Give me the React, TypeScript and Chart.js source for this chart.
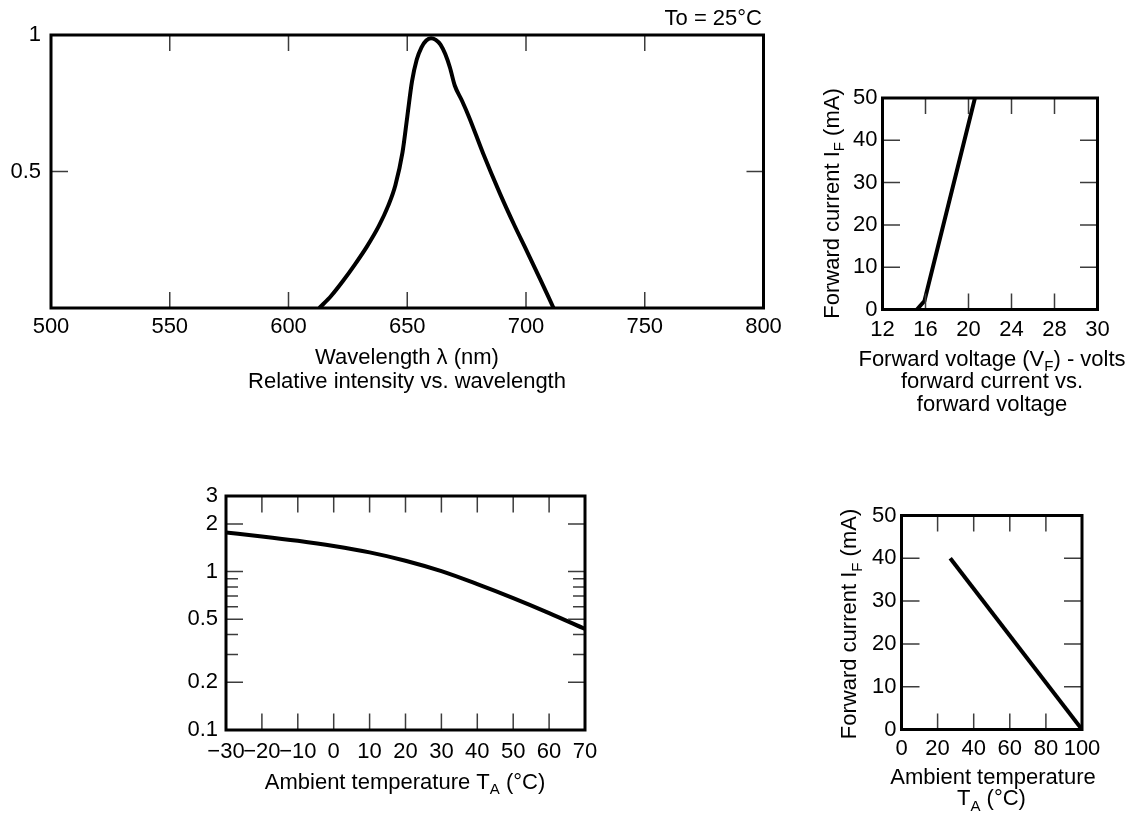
import React, { useEffect, useRef } from 'react';
import { Chart, registerables } from 'chart.js';

Chart.register(...registerables);

const FONT = "'Liberation Sans', Arial, Helvetica, sans-serif";

// ---------- Relative intensity vs. wavelength ----------
const wavelengthNm = [613, 618, 623, 628, 633, 638, 642, 645, 648, 650, 652, 654, 656, 658, 660, 662, 664, 666, 668, 670, 673, 676, 682, 689, 695, 700, 706, 711.6];
const relativeIntensity = [0, 0.045, 0.1, 0.16, 0.225, 0.3, 0.375, 0.45, 0.57, 0.7, 0.83, 0.91, 0.955, 0.98, 0.988, 0.982, 0.965, 0.93, 0.88, 0.815, 0.76, 0.7, 0.565, 0.42, 0.305, 0.215, 0.105, 0];
const wavelengthTicks = [500, 550, 600, 650, 700, 750, 800];
const intensityTicks = [0.5, 1];

// ---------- Forward current vs. forward voltage ----------
const forwardVoltage = [15.2, 15.9, 20.6];
const forwardCurrentByVoltage = [0, 2, 50];
const voltageTicks = [12, 16, 20, 24, 28, 32];
const voltageTickLabels = ['12', '16', '20', '24', '28', '30'];
const currentTicks = [0, 10, 20, 30, 40, 50];

// ---------- Relative luminous intensity vs. ambient temperature ----------
const ambientTemp = [-30, -20, -10, 0, 10, 20, 30, 40, 50, 60, 70];
const relativeLuminous = [1.764, 1.667, 1.564, 1.45, 1.322, 1.171, 1.006, 0.833, 0.68, 0.547, 0.434];
const tempTicks = [-30, -20, -10, 0, 10, 20, 30, 40, 50, 60, 70];
const tempTickLabels = ['\u221230', '\u221220', '\u221210', '0', '10', '20', '30', '40', '50', '60', '70'];
const luminousTicks = [0.1, 0.2, 0.5, 1, 2, 3];
const luminousMinorTicks = [0.3, 0.4, 0.6, 0.7, 0.8, 0.9];

// ---------- Forward current vs. ambient temperature ----------
const deratingTemp = [27, 100];
const deratingCurrent = [40, 0];
const deratingTempTicks = [0, 20, 40, 60, 80, 100];
const deratingCurrentTicks = [0, 10, 20, 30, 40, 50];

type Seg = { t: string; sub?: boolean };
type TextItem = { segs: Seg[]; x: number; y: number; rot?: boolean; align?: 'left' | 'center' | 'right'; size?: number };
type Mark = { v: number; len: number };

type Spec = {
  box: { x: number; y: number; w: number; h: number };
  area: { left: number; top: number; right: number; bottom: number };
  xs: number[];
  ys: number[];
  smooth: boolean;
  xMin: number; xMax: number; xTicks: number[]; xLabels?: string[]; xPad: number;
  yMin: number; yMax: number; yTicks: number[]; yLabels?: string[]; yPad: number; yLog?: boolean;
  xMarks: Mark[];
  yMarks: Mark[];
  texts: TextItem[];
};

const TICK_FONT = { family: FONT, size: 22 };

function drawRich(ctx: CanvasRenderingContext2D, item: TextItem, ox: number, oy: number) {
  const size = item.size ?? 22;
  const main = `${size}px ${FONT}`;
  const sub = `${Math.round(size * 0.7)}px ${FONT}`;
  const widths = item.segs.map((s) => {
    ctx.font = s.sub ? sub : main;
    return ctx.measureText(s.t).width;
  });
  const total = widths.reduce((a, b) => a + b, 0);
  ctx.save();
  ctx.translate(item.x - ox, item.y - oy);
  if (item.rot) ctx.rotate(-Math.PI / 2);
  let cx = item.align === 'right' ? -total : item.align === 'left' ? 0 : -total / 2;
  const base = size * 0.36;
  ctx.fillStyle = '#000';
  ctx.textAlign = 'left';
  ctx.textBaseline = 'alphabetic';
  item.segs.forEach((s, i) => {
    ctx.font = s.sub ? sub : main;
    ctx.fillText(s.t, cx, s.sub ? base + size * 0.24 : base);
    cx += widths[i];
  });
  ctx.restore();
}

function decorPlugin(spec: Spec) {
  return {
    id: 'decor',
    afterDatasetsDraw(chart: any) {
      const { ctx, chartArea: a, scales } = chart;
      const sx = scales.x;
      const sy = scales.y;
      ctx.save();
      ctx.strokeStyle = '#3c3c3c';
      ctx.lineWidth = 1.5;
      ctx.beginPath();
      for (const m of spec.xMarks) {
        const px = sx.getPixelForValue(m.v);
        ctx.moveTo(px, a.bottom);
        ctx.lineTo(px, a.bottom - m.len);
        ctx.moveTo(px, a.top);
        ctx.lineTo(px, a.top + m.len);
      }
      for (const m of spec.yMarks) {
        const py = sy.getPixelForValue(m.v);
        ctx.moveTo(a.left, py);
        ctx.lineTo(a.left + m.len, py);
        ctx.moveTo(a.right, py);
        ctx.lineTo(a.right - m.len, py);
      }
      ctx.stroke();
      ctx.strokeStyle = '#000';
      ctx.lineWidth = 3;
      ctx.strokeRect(a.left, a.top, a.right - a.left, a.bottom - a.top);
      ctx.restore();
      for (const t of spec.texts) drawRich(ctx, t, spec.box.x, spec.box.y);
    },
  };
}

function buildConfig(spec: Spec): any {
  const { box, area } = spec;
  return {
    type: 'line',
    data: {
      datasets: [
        {
          data: spec.xs.map((x, i) => ({ x, y: spec.ys[i] })),
          borderColor: '#000',
          borderWidth: 4,
          pointRadius: 0,
          pointHoverRadius: 0,
          fill: false,
          tension: 0,
          cubicInterpolationMode: spec.smooth ? 'monotone' : 'default',
          borderJoinStyle: 'round',
        },
      ],
    },
    options: {
      responsive: false,
      animation: false,
      devicePixelRatio: 1,
      events: [],
      layout: {
        padding: { left: 0, top: area.top - box.y, right: box.x + box.w - area.right, bottom: 0 },
      },
      plugins: { legend: { display: false }, tooltip: { enabled: false }, title: { display: false } },
      scales: {
        x: {
          type: 'linear',
          min: spec.xMin,
          max: spec.xMax,
          grid: { display: false, drawTicks: false },
          border: { display: false },
          ticks: {
            autoSkip: false,
            maxRotation: 0,
            minRotation: 0,
            padding: spec.xPad,
            color: '#000',
            font: TICK_FONT,
            callback: (v: number, i: number) => (spec.xLabels ? spec.xLabels[i] : String(v)),
          },
          afterBuildTicks: (s: any) => {
            s.ticks = spec.xTicks.map((v) => ({ value: v }));
          },
          afterFit: (s: any) => {
            s.height = box.y + box.h - area.bottom;
          },
        },
        y: {
          type: spec.yLog ? 'logarithmic' : 'linear',
          min: spec.yMin,
          max: spec.yMax,
          grid: { display: false, drawTicks: false },
          border: { display: false },
          ticks: {
            autoSkip: false,
            padding: spec.yPad,
            color: '#000',
            font: TICK_FONT,
            callback: (v: number, i: number) => (spec.yLabels ? spec.yLabels[i] : String(v)),
          },
          afterBuildTicks: (s: any) => {
            s.ticks = spec.yTicks.map((v) => ({ value: v }));
          },
          afterFit: (s: any) => {
            s.width = area.left - box.x;
          },
        },
      },
    },
    plugins: [decorPlugin(spec)],
  };
}

const inner = (vals: number[], len: number, min: number, max: number): Mark[] =>
  vals.filter((v) => v > min && v < max).map((v) => ({ v, len }));

const specs: Spec[] = [
  {
    box: { x: 0, y: 0, w: 800, h: 400 },
    area: { left: 51, top: 35, right: 763.5, bottom: 308 },
    xs: wavelengthNm,
    ys: relativeIntensity,
    smooth: true,
    xMin: 500, xMax: 800, xTicks: wavelengthTicks, xPad: 6,
    yMin: 0, yMax: 1, yTicks: intensityTicks, yPad: 10,
    xMarks: inner(wavelengthTicks, 16, 500, 800),
    yMarks: inner(intensityTicks, 17, 0, 1),
    texts: [
      { segs: [{ t: 'To = 25\u00B0C' }], x: 762, y: 17.5, align: 'right' },
      { segs: [{ t: 'Wavelength \u03BB (nm)' }], x: 407, y: 356.5 },
      { segs: [{ t: 'Relative intensity vs. wavelength' }], x: 407, y: 380 },
    ],
  },
  {
    box: { x: 800, y: 60, w: 331, h: 360 },
    area: { left: 882.5, top: 98, right: 1097.5, bottom: 309.5 },
    xs: forwardVoltage,
    ys: forwardCurrentByVoltage,
    smooth: false,
    xMin: 12, xMax: 32, xTicks: voltageTicks, xLabels: voltageTickLabels, xPad: 7,
    yMin: 0, yMax: 50, yTicks: currentTicks, yPad: 5,
    xMarks: inner(voltageTicks, 16, 12, 32),
    yMarks: inner(currentTicks, 17.5, 0, 50),
    texts: [
      { segs: [{ t: 'Forward current I' }, { t: 'F', sub: true }, { t: ' (mA)' }], x: 831, y: 203.5, rot: true },
      { segs: [{ t: 'Forward voltage (V' }, { t: 'F', sub: true }, { t: ') - volts' }], x: 992, y: 358 },
      { segs: [{ t: 'forward current vs.' }], x: 992, y: 380 },
      { segs: [{ t: 'forward voltage' }], x: 992, y: 403.5 },
    ],
  },
  {
    box: { x: 150, y: 470, w: 470, h: 340 },
    area: { left: 226, top: 496, right: 585, bottom: 730 },
    xs: ambientTemp,
    ys: relativeLuminous,
    smooth: true,
    xMin: -30, xMax: 70, xTicks: tempTicks, xLabels: tempTickLabels, xPad: 9,
    yMin: 0.1, yMax: 3, yTicks: luminousTicks, yPad: 8, yLog: true,
    xMarks: inner(tempTicks, 16.5, -30, 70),
    yMarks: [...inner(luminousTicks, 17, 0.1, 3), ...inner(luminousMinorTicks, 12, 0.1, 3)],
    texts: [
      { segs: [{ t: 'Ambient temperature T' }, { t: 'A', sub: true }, { t: ' (\u00B0C)' }], x: 405, y: 781 },
    ],
  },
  {
    box: { x: 800, y: 490, w: 331, h: 327 },
    area: { left: 901.5, top: 515.5, right: 1082, bottom: 729.5 },
    xs: deratingTemp,
    ys: deratingCurrent,
    smooth: false,
    xMin: 0, xMax: 100, xTicks: deratingTempTicks, xPad: 6,
    yMin: 0, yMax: 50, yTicks: deratingCurrentTicks, yPad: 5,
    xMarks: inner(deratingTempTicks, 16, 0, 100),
    yMarks: inner(deratingCurrentTicks, 18, 0, 50),
    texts: [
      { segs: [{ t: 'Forward current I' }, { t: 'F', sub: true }, { t: ' (mA)' }], x: 848.5, y: 624, rot: true },
      { segs: [{ t: 'Ambient temperature' }], x: 993, y: 776 },
      { segs: [{ t: 'T' }, { t: 'A', sub: true }, { t: ' (\u00B0C)' }], x: 991.5, y: 797.5 },
    ],
  },
];

function Panel({ spec }: { spec: Spec }) {
  const ref = useRef<HTMLCanvasElement>(null);
  useEffect(() => {
    if (!ref.current) return;
    const chart = new Chart(ref.current, buildConfig(spec));
    return () => chart.destroy();
  }, [spec]);
  const { x, y, w, h } = spec.box;
  return (
    <canvas
      ref={ref}
      width={w}
      height={h}
      style={{ position: 'absolute', left: x, top: y, width: w, height: h, display: 'block' }}
    />
  );
}

export default function App() {
  return (
    <div style={{ position: 'absolute', left: 0, top: 0, width: 1131, height: 817, background: '#fff', overflow: 'hidden' }}>
      {specs.map((s, i) => (
        <Panel key={i} spec={s} />
      ))}
    </div>
  );
}
